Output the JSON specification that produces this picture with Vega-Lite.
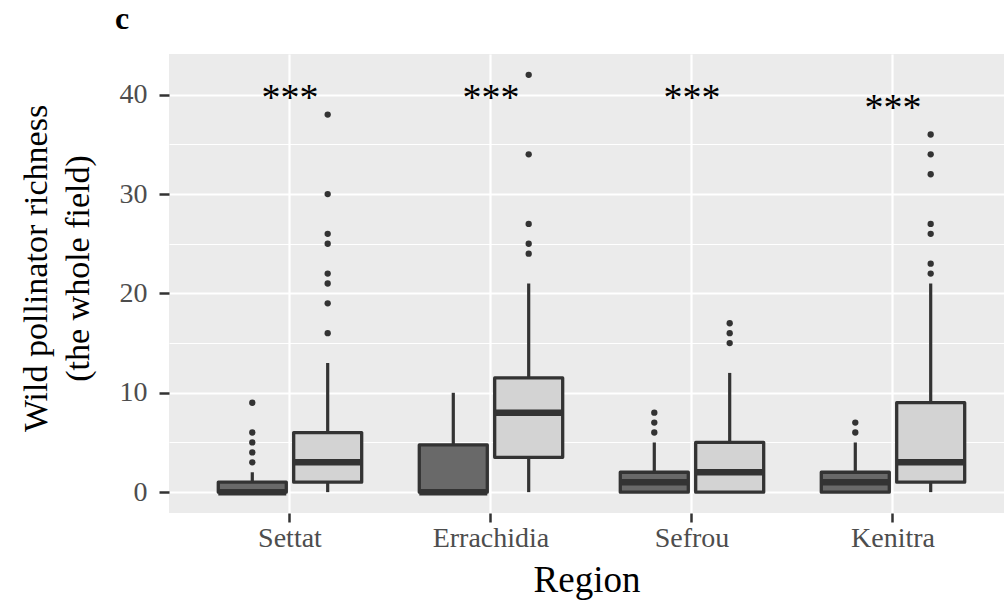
{
  "$schema": "https://vega.github.io/schema/vega-lite/v6.json",
  "width": 835,
  "height": 459,
  "autosize": {"type": "none"},
  "padding": {"left": 169, "top": 54, "right": 0, "bottom": 94},
  "background": "white",
  "title": {"text": "c", "anchor": "start", "frame": "group", "dx": -54, "offset": 18, "font": "Liberation Serif", "fontSize": 32, "fontWeight": "bold", "color": "black"},
  "config": {"view": {"fill": "#EBEBEB", "stroke": null}, "font": "Liberation Serif"},
  "datasets": {
    "boxes": [
      {"region": "Settat", "group": "A", "lower": 0, "q1": 0, "median": 0, "q3": 1, "upper": 2},
      {"region": "Settat", "group": "B", "lower": 0, "q1": 1, "median": 3, "q3": 6, "upper": 13},
      {"region": "Errachidia", "group": "A", "lower": 0, "q1": 0, "median": 0, "q3": 4.75, "upper": 10},
      {"region": "Errachidia", "group": "B", "lower": 0, "q1": 3.5, "median": 8, "q3": 11.5, "upper": 21},
      {"region": "Sefrou", "group": "A", "lower": 0, "q1": 0, "median": 1, "q3": 2, "upper": 5},
      {"region": "Sefrou", "group": "B", "lower": 0, "q1": 0, "median": 2, "q3": 5, "upper": 12},
      {"region": "Kenitra", "group": "A", "lower": 0, "q1": 0, "median": 1, "q3": 2, "upper": 5},
      {"region": "Kenitra", "group": "B", "lower": 0, "q1": 1, "median": 3, "q3": 9, "upper": 21}
    ],
    "outliers": [
      {"region": "Settat", "group": "A", "value": 3},
      {"region": "Settat", "group": "A", "value": 4},
      {"region": "Settat", "group": "A", "value": 5},
      {"region": "Settat", "group": "A", "value": 6},
      {"region": "Settat", "group": "A", "value": 9},
      {"region": "Settat", "group": "B", "value": 16},
      {"region": "Settat", "group": "B", "value": 19},
      {"region": "Settat", "group": "B", "value": 21},
      {"region": "Settat", "group": "B", "value": 22},
      {"region": "Settat", "group": "B", "value": 25},
      {"region": "Settat", "group": "B", "value": 26},
      {"region": "Settat", "group": "B", "value": 30},
      {"region": "Settat", "group": "B", "value": 38},
      {"region": "Errachidia", "group": "B", "value": 24},
      {"region": "Errachidia", "group": "B", "value": 25},
      {"region": "Errachidia", "group": "B", "value": 27},
      {"region": "Errachidia", "group": "B", "value": 34},
      {"region": "Errachidia", "group": "B", "value": 42},
      {"region": "Sefrou", "group": "A", "value": 6},
      {"region": "Sefrou", "group": "A", "value": 7},
      {"region": "Sefrou", "group": "A", "value": 8},
      {"region": "Sefrou", "group": "B", "value": 15},
      {"region": "Sefrou", "group": "B", "value": 16},
      {"region": "Sefrou", "group": "B", "value": 17},
      {"region": "Kenitra", "group": "A", "value": 6},
      {"region": "Kenitra", "group": "A", "value": 7},
      {"region": "Kenitra", "group": "B", "value": 22},
      {"region": "Kenitra", "group": "B", "value": 23},
      {"region": "Kenitra", "group": "B", "value": 26},
      {"region": "Kenitra", "group": "B", "value": 27},
      {"region": "Kenitra", "group": "B", "value": 32},
      {"region": "Kenitra", "group": "B", "value": 34},
      {"region": "Kenitra", "group": "B", "value": 36}
    ],
    "signif": [
      {"region": "Settat", "label": "***", "y": 40},
      {"region": "Errachidia", "label": "***", "y": 40},
      {"region": "Sefrou", "label": "***", "y": 40},
      {"region": "Kenitra", "label": "***", "y": 39}
    ]
  },
  "layer": [
    {
      "data": {"name": "boxes"},
      "mark": {"type": "rule", "color": "#333333", "strokeWidth": 3.2},
      "encoding": {
        "x": {
          "field": "region", "type": "nominal",
          "sort": ["Settat", "Errachidia", "Sefrou", "Kenitra"],
          "scale": {"type": "band", "paddingInner": 0, "paddingOuter": 0.0771, "align": 0.661},
          "axis": {
            "title": "Region", "titleFontSize": 37, "titleFont": "Liberation Serif", "titleFontWeight": "normal", "titleColor": "black", "titlePadding": 10,
            "labelFont": "Liberation Serif", "labelFontSize": 28, "labelColor": "#4D4D4D", "labelAngle": 0, "labelPadding": 2,
            "tickSize": 9, "tickColor": "#333333", "tickWidth": 2.5, "domain": false,
            "grid": true, "gridColor": "white", "gridWidth": 2.2, "bandPosition": 0.5
          }
        },
        "xOffset": {"field": "group", "type": "nominal", "sort": ["A", "B"], "scale": {"paddingInner": 0.098, "paddingOuter": 0.382}},
        "y": {
          "field": "lower", "type": "quantitative",
          "scale": {"domain": [-2.1, 44.1], "nice": false, "zero": false},
          "axis": {
            "title": ["Wild pollinator richness", "(the whole field)"], "titleFontSize": 34, "titleFont": "Liberation Serif", "titleFontWeight": "normal", "titleColor": "black", "titleLineHeight": 42, "titleY": 214, "titlePadding": 24,
            "values": [0, 5, 10, 15, 20, 25, 30, 35, 40],
            "labelExpr": "datum.value % 10 === 0 ? datum.label : ''",
            "labelFont": "Liberation Serif", "labelFontSize": 28, "labelColor": "#4D4D4D", "labelPadding": 12,
            "tickSize": 10, "tickColor": "#333333", "tickWidth": 2.5,
            "tickOpacity": {"condition": {"test": "datum.value % 10 === 0", "value": 1}, "value": 0},
            "domain": false,
            "grid": true, "gridColor": "white",
            "gridWidth": {"condition": {"test": "datum.value % 10 === 0", "value": 2.2}, "value": 1.1}
          }
        },
        "y2": {"field": "upper"}
      }
    },
    {
      "data": {"name": "boxes"},
      "mark": {"type": "bar", "stroke": "#333333", "strokeWidth": 3.3, "strokeJoin": "round"},
      "encoding": {
        "x": {"field": "region", "type": "nominal", "sort": ["Settat", "Errachidia", "Sefrou", "Kenitra"]},
        "xOffset": {"field": "group", "type": "nominal", "sort": ["A", "B"]},
        "y": {"field": "q1", "type": "quantitative"},
        "y2": {"field": "q3"},
        "color": {"field": "group", "type": "nominal", "scale": {"domain": ["A", "B"], "range": ["#696969", "#D3D3D3"]}, "legend": null}
      }
    },
    {
      "data": {"name": "boxes"},
      "mark": {"type": "tick", "color": "#333333", "thickness": 6.5, "size": 68, "opacity": 1},
      "encoding": {
        "x": {"field": "region", "type": "nominal", "sort": ["Settat", "Errachidia", "Sefrou", "Kenitra"]},
        "xOffset": {"field": "group", "type": "nominal", "sort": ["A", "B"]},
        "y": {"field": "median", "type": "quantitative"}
      }
    },
    {
      "data": {"name": "outliers"},
      "mark": {"type": "point", "filled": true, "color": "#333333", "size": 40, "opacity": 1},
      "encoding": {
        "x": {"field": "region", "type": "nominal", "sort": ["Settat", "Errachidia", "Sefrou", "Kenitra"]},
        "xOffset": {"field": "group", "type": "nominal", "sort": ["A", "B"]},
        "y": {"field": "value", "type": "quantitative"}
      }
    },
    {
      "data": {"name": "signif"},
      "mark": {"type": "text", "font": "Liberation Serif", "fontSize": 38, "color": "black", "baseline": "middle", "dy": 4},
      "encoding": {
        "x": {"field": "region", "type": "nominal", "sort": ["Settat", "Errachidia", "Sefrou", "Kenitra"]},
        "y": {"field": "y", "type": "quantitative"},
        "text": {"field": "label"}
      }
    }
  ]
}
